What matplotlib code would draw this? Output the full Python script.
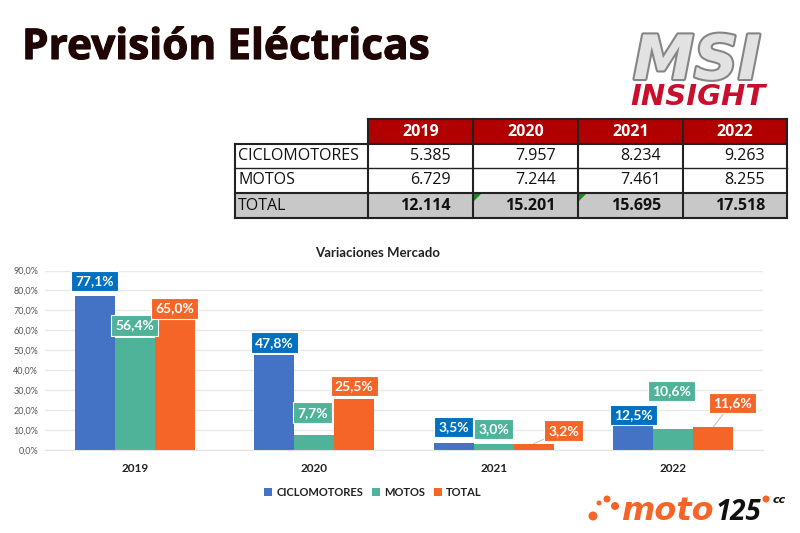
"""Previsión Eléctricas: market table and yearly variation bars."""

import matplotlib

matplotlib.use("Agg")
import matplotlib.patheffects as pe
import matplotlib.pyplot as plt
import numpy as np
from matplotlib.patches import Circle, Polygon, Rectangle

YEARS = ["2019", "2020", "2021", "2022"]
SERIES = ["CICLOMOTORES", "MOTOS", "TOTAL"]
CICLOMOTORES = [77.1, 47.8, 3.5, 12.5]
MOTOS = [56.4, 7.7, 3.0, 10.6]
TOTAL = [65.0, 25.5, 3.2, 11.6]
Y_TICKS = [0, 10, 20, 30, 40, 50, 60, 70, 80, 90]

TABLE_CICLO = ["5.385", "7.957", "8.234", "9.263"]
TABLE_MOTOS = ["6.729", "7.244", "7.461", "8.255"]
TABLE_TOTAL = ["12.114", "15.201", "15.695", "17.518"]

BLUE = "#4472c4"
GREEN = "#4fb39a"
ORANGE = "#f46527"
BLUE_LABEL = "#0070c0"
RED = "#b00000"
INK = "#200505"

# label box offsets from bar top, in pixels (dx, dy), one row per series
OFFSETS_CICLO = [(0, 15), (0, 12), (0, 16), (0, 10)]
OFFSETS_MOTOS = [(0, 12), (-2, 22), (0, 15), (-2, 38)]
OFFSETS_TOTAL = [(0, 12), (0, 13), (30, 13), (19, 24)]

W, H = 800, 533
fig = plt.figure(figsize=(W / 100, H / 100), dpi=100, facecolor="white")
plt.rcParams["font.family"] = "Lato"

# bar chart, placed to pixel positions
left, right, top, bottom = 45, 763, 270.5, 450
ax = fig.add_axes([left / W, 1 - bottom / H, (right - left) / W, (bottom - top) / H])
x = np.arange(len(YEARS))
width = 0.2225
series_vals = [CICLOMOTORES, MOTOS, TOTAL]
series_cols = [BLUE, GREEN, ORANGE]
label_cols = [BLUE_LABEL, GREEN, ORANGE]
series_offs = [OFFSETS_CICLO, OFFSETS_MOTOS, OFFSETS_TOTAL]

for i, (name, vals, col, lcol, offs) in enumerate(
    zip(SERIES, series_vals, series_cols, label_cols, series_offs)
):
    xs = x + (i - 1) * width
    ax.bar(xs, vals, width=width, color=col, label=name, zorder=2,
           edgecolor="none")
    for xi, v, (dx, dy) in zip(xs, vals, offs):
        leader = i == 2 and dx > 5
        ax.annotate(
            f"{v:.1f}%".replace(".", ","),
            xy=(xi, v), xytext=(dx, dy), textcoords="offset pixels",
            ha="center", va="center", fontsize=10, fontweight="bold", color="white",
            bbox=dict(boxstyle="square,pad=0.3", fc=lcol, ec="white", lw=0.8),
            arrowprops=dict(arrowstyle="-", color="#bfbfbf", lw=0.7, shrinkA=0, shrinkB=0)
            if leader else None,
            zorder=5,
        )

ax.set_xlim(-0.5, 3.5)
ax.set_ylim(0, 90)
ax.set_yticks(Y_TICKS)
ax.set_yticklabels([f"{t:.1f}%".replace(".", ",") for t in Y_TICKS],
                   fontsize=6.5, color="#555555")
ax.set_xticks(x)
ax.set_xticklabels(YEARS, fontsize=8.5, fontweight="bold", color="#222222")
ax.tick_params(axis="both", length=0)
ax.tick_params(axis="x", pad=9)
ax.tick_params(axis="y", pad=5)
ax.grid(axis="y", color="#e9e9e9", lw=1)
ax.set_axisbelow(True)
for s in ["top", "right", "left"]:
    ax.spines[s].set_visible(False)
ax.spines["bottom"].set_color("#e4e4e4")
ax.patch.set_alpha(0)

fig.legend(loc="center", bbox_to_anchor=(373 / W, 1 - 492 / H), ncol=3, frameon=False,
           handlelength=0.7, handleheight=0.7, handletextpad=0.4, columnspacing=0.8,
           prop={"size": 8, "weight": "bold"}, labelcolor="#222222")
fig.text(378 / W, 1 - 253 / H, "Variaciones Mercado", ha="center", va="center",
         fontsize=9.5, fontweight="bold", color="#222222")

# overlay in pixel coordinates for table and logos
ov = fig.add_axes([0, 0, 1, 1], zorder=-1)
ov.set_xlim(0, W)
ov.set_ylim(H, 0)
ov.axis("off")

ov.text(22, 59, "Previsión Eléctricas", fontsize=30.5, fontweight="bold", color=INK,
        va="baseline", ha="left", family="Open Sans",
        path_effects=[pe.withStroke(linewidth=0.8, foreground=INK)])

# table
col_x = [235, 368, 473, 578, 683, 787]
row_y = [119, 144, 168, 193, 218]
tf = "Open Sans"
for a, b in zip(col_x[1:], col_x[2:]):
    ov.add_patch(Rectangle((a, row_y[0]), b - a, row_y[1] - row_y[0], fc=RED, ec="none"))
ov.add_patch(Rectangle((col_x[0], row_y[3]), col_x[-1] - col_x[0], row_y[4] - row_y[3],
                       fc="#c8c8c8", ec="none"))
for yr, a, b in zip(YEARS, col_x[1:], col_x[2:]):
    ov.text((a + b) / 2, (row_y[0] + row_y[1]) / 2, yr, color="white", fontsize=11.5,
            fontweight="bold", ha="center", va="center", family=tf)
rows = [("CICLOMOTORES", TABLE_CICLO), ("MOTOS", TABLE_MOTOS), ("TOTAL", TABLE_TOTAL)]
for r, (name, vals) in enumerate(rows):
    yc = (row_y[r + 1] + row_y[r + 2]) / 2
    is_total = name == "TOTAL"
    ov.text(col_x[0] + 3, yc, name, fontsize=11.5, color="#111111", ha="left", va="center",
            family=tf)
    for v, b in zip(vals, col_x[2:]):
        ov.text(b - 22, yc, v, fontsize=11.5, color="#111111", ha="right", va="center",
                family=tf, fontweight="bold" if is_total else "normal")
for cx in col_x[2:4]:
    ov.add_patch(Polygon([(cx + 1, row_y[3] + 1), (cx + 8, row_y[3] + 1), (cx + 1, row_y[3] + 8)],
                         fc="#1a8a1a", ec="none", zorder=3))

line = dict(color="#222222", lw=1.5, zorder=4)
ov.plot([col_x[1], col_x[-1]], [row_y[0]] * 2, **line)
ov.plot([col_x[0], col_x[-1]], [row_y[1]] * 2, **line)
ov.plot([col_x[0], col_x[-1]], [row_y[3]] * 2, **line)
ov.plot([col_x[0], col_x[-1]], [row_y[4]] * 2, **line)
ov.plot([col_x[0], col_x[-1]], [row_y[2]] * 2, color="#222222", lw=1, zorder=4)
ov.plot([col_x[0]] * 2, [row_y[1], row_y[4]], **line)
for cx in col_x[1:]:
    ov.plot([cx, cx], [row_y[0], row_y[4]], **line)

# MSI logo
ov.text(697, 79, "MSI", fontsize=44, fontweight="bold", style="italic", color="#e2e2e2",
        ha="center", va="baseline", family="DejaVu Sans",
        path_effects=[pe.withStroke(linewidth=3, foreground="#858585")])
ov.text(698, 105, "INSIGHT", fontsize=21, fontweight="bold", style="italic", color="#c8102e",
        ha="center", va="baseline", family="DejaVu Sans")

# moto125 logo
for cx, cy, rad in [(593, 516, 4.5), (599, 503, 2.5), (607, 499, 3.5), (615, 506, 4)]:
    ov.add_patch(Circle((cx, cy), rad, fc=ORANGE, ec="none"))
ov.add_patch(Circle((766, 499), 3.5, fc=ORANGE, ec="none"))
ov.text(621, 520, "moto", fontsize=23, fontweight="bold", style="italic", color=ORANGE,
        ha="left", va="baseline", family="DejaVu Sans")
ov.text(716, 520, "125", fontsize=20, fontweight="bold", style="italic", color="#111111",
        ha="left", va="baseline", family="Open Sans")
ov.text(773, 503, "cc", fontsize=8, fontweight="bold", style="italic", color="#111111",
        ha="left", va="baseline", family="DejaVu Sans")

fig.savefig("out.png", dpi=100)
